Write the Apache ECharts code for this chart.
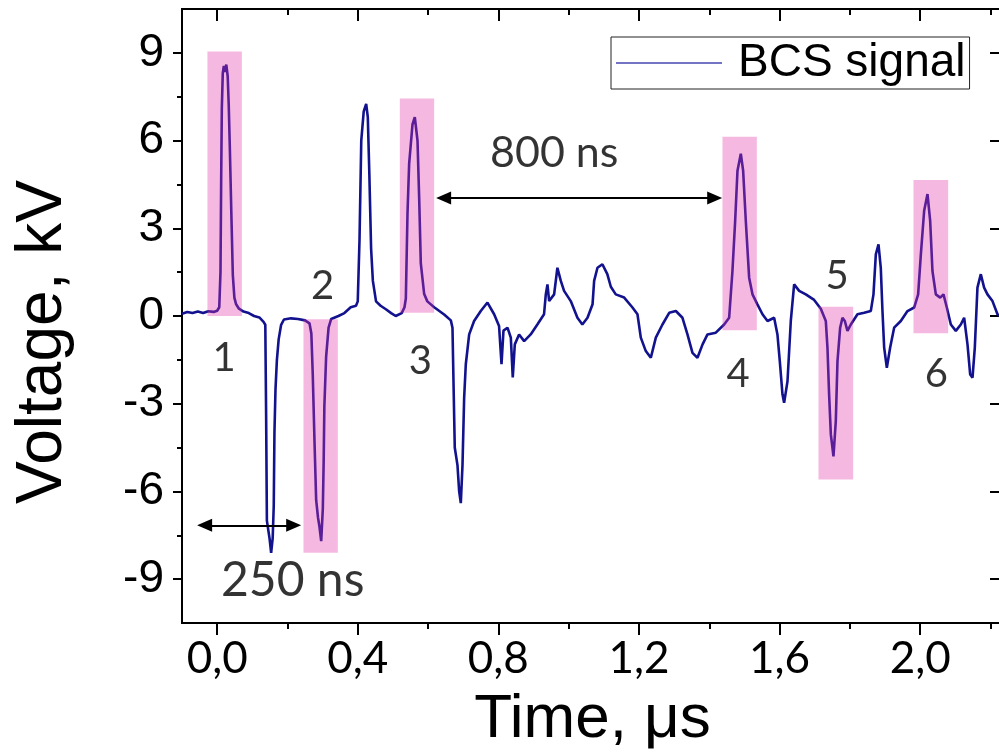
<!DOCTYPE html>
<html>
<head>
<meta charset="utf-8">
<script src="https://cdn.jsdelivr.net/npm/echarts@6.0.0/dist/echarts.min.js"></script>
<style>
  html, body { margin: 0; padding: 0; background: #fff; }
  #chart { width: 999px; height: 754px; }
</style>
</head>
<body>
<div id="chart"></div>
<script>
// ---- Data ----
const seriesName = 'BCS signal';

const times = [
  -0.10, -0.085, -0.07, -0.055, -0.04, -0.025, -0.01, 0.000, 0.006,
  0.0095, 0.0114, 0.0133, 0.016, 0.019, 0.0225, 0.026, 0.030, 0.033, 0.036, 0.040, 0.0446, 0.049, 0.054,
  0.062, 0.075, 0.09, 0.105, 0.12, 0.132,
  0.137, 0.1394, 0.1415, 0.149, 0.1536, 0.158, 0.161, 0.163, 0.166, 0.170, 0.175, 0.182, 0.19, 0.21, 0.23, 0.25, 0.2627,
  0.268, 0.272, 0.277, 0.2817, 0.287, 0.291, 0.296, 0.3006, 0.303, 0.305, 0.310, 0.317, 0.3245, 0.345, 0.362, 0.380, 0.395,
  0.400, 0.405, 0.410, 0.417, 0.424, 0.4286, 0.433, 0.438, 0.443, 0.452, 0.465, 0.480, 0.495, 0.508, 0.525, 0.533,
  0.5368, 0.5415, 0.5462, 0.5557, 0.5623, 0.570, 0.5747, 0.5794, 0.589, 0.598, 0.6174, 0.6458, 0.6648, 0.6695,
  0.6723, 0.676, 0.6837, 0.6885, 0.6932, 0.698, 0.7027, 0.7074, 0.717, 0.731, 0.750, 0.769, 0.788, 0.802,
  0.809, 0.8146, 0.826, 0.8355, 0.841, 0.8468, 0.859, 0.8734, 0.892, 0.911, 0.930, 0.935, 0.9397, 0.9445,
  0.9587, 0.968, 0.9777, 0.987, 1.006, 1.025, 1.039, 1.0536, 1.068, 1.0725, 1.082, 1.096, 1.110, 1.120, 1.134,
  1.158, 1.1816, 1.1958, 1.2053, 1.2195, 1.2338, 1.248, 1.2669, 1.286, 1.305, 1.3238, 1.338, 1.3523, 1.3665,
  1.381, 1.395, 1.4187, 1.4424, 1.4566, 1.466, 1.4737, 1.4803, 1.4898, 1.4964, 1.504, 1.5135, 1.523, 1.537,
  1.5514, 1.5657, 1.5846, 1.594, 1.6007, 1.6083, 1.613, 1.6226, 1.632, 1.6415, 1.6558, 1.6747, 1.6984, 1.7174,
  1.7316, 1.7363, 1.741, 1.7459, 1.7534, 1.760, 1.7648, 1.7724, 1.779, 1.7857, 1.7932, 1.8028, 1.8217, 1.8407,
  1.8596, 1.8672, 1.8739, 1.8815, 1.888, 1.8928, 1.8976, 1.9052, 1.9147, 1.926, 1.945, 1.964, 1.983, 1.9943,
  2.002, 2.0114, 2.0209, 2.0285, 2.035, 2.0446, 2.057, 2.0664, 2.0759, 2.0873, 2.1015, 2.1157, 2.1252, 2.1347,
  2.1423, 2.149, 2.1555, 2.163, 2.1726, 2.182, 2.1915, 2.2058, 2.22, 2.235
];

const volts = [
  0.08, 0.14, 0.10, 0.15, 0.10, 0.16, 0.14, 0.18, 0.30,
  1.5, 4.6, 7.1, 8.3, 8.55, 8.35, 8.6, 8.2, 7.2, 5.8, 3.7, 1.4, 0.63, 0.40,
  0.25, 0.15, 0.10, 0.0, -0.05, -0.2,
  -0.3, -3.5, -7.0, -7.6, -8.1, -7.6, -6.5, -4.0, -2.5, -1.5, -0.8, -0.3, -0.12, -0.08, -0.1, -0.15, -0.25,
  -0.6, -2.0, -4.3, -6.3, -6.9, -7.2, -7.7, -6.6, -5.0, -3.1, -1.4, -0.4, -0.1, 0.0, 0.1, 0.3, 0.35,
  0.5, 2.6, 6.0, 7.0, 7.25, 6.8, 4.85, 2.3, 1.2, 0.5, 0.35, 0.23, 0.1, 0.0, 0.1, 0.3,
  0.6, 3.5, 5.2, 6.55, 6.8, 6.0, 4.05, 1.8, 0.75, 0.5, 0.3, 0.05, -0.15, -0.4,
  -2.2, -4.5, -5.1, -6.0, -6.4, -5.1, -2.8, -1.65, -0.63, -0.17, 0.17, 0.46, 0.06, -0.34,
  -1.65, -0.5, -0.4, -0.74, -2.1, -0.97, -0.63, -0.86, -0.63, -0.29, 0.06, 0.74, 1.08, 0.51,
  0.74, 1.65, 1.2, 0.86, 0.51, -0.06, -0.29, -0.06, 0.4, 1.2, 1.65, 1.77, 1.43, 1.0, 0.74,
  0.63, 0.29, 0.06, -0.74, -1.2, -1.43, -0.74, -0.29, 0.11, 0.17, -0.06, -0.63, -1.26, -1.43,
  -0.97, -0.63, -0.57, -0.29, -0.06, 1.54, 3.25, 4.97, 5.55, 4.97, 3.25, 1.31, 0.74, 0.40,
  0.06, -0.17, -0.06, -0.63, -1.54, -2.68, -2.97, -2.23, -0.17, 1.08, 0.86, 0.74, 0.55, 0.25,
  -0.17, -1.08, -2.68, -4.05, -4.8, -3.6, -1.54, -0.4, -0.06, -0.17, -0.51, -0.29, 0.06, 0.11,
  0.17, 0.74, 2.11, 2.45, 1.65, 0.17, -1.08, -1.77, -1.08, -0.4, -0.17, 0.17, 0.29, 0.74,
  2.11, 3.6, 4.17, 3.25, 1.54, 0.74, 0.63, 0.74, 0.29, -0.29, -0.51, -0.29, -0.06, -0.97,
  -2.0, -2.11, -1.08, 0.97, 1.43, 0.97, 0.74, 0.51, 0.06, -0.05
];

// Highlighted pulses (pink boxes): time start/end, voltage low/high
const boxStart = [-0.0276, 0.2456, 0.5197, 1.4376, 1.7108, 1.9810];
const boxEnd   = [ 0.0703, 0.3433, 0.6174, 1.5354, 1.8094, 2.0797];
const boxLow   = [ 0.00,  -8.10,   0.11,  -0.49,  -5.59,  -0.59];
const boxHigh  = [ 9.05,  -0.11,   7.44,   6.13,   0.32,   4.65];

// Pulse numbers (label text, time, voltage)
const pulseLabels = ['1', '2', '3', '4', '5', '6'];
const pulseLabelT = [0.020, 0.300, 0.578, 1.482, 1.764, 2.046];
const pulseLabelV = [-1.44, 1.03, -1.54, -1.99, 1.37, -1.99];

// Interval annotations (double arrows)
const spanLabels = ['250 ns', '800 ns'];
const spanStart  = [-0.0357, 0.6443];
const spanEnd    = [0.2177, 1.4154];
const spanV      = [-7.16, 4.04];
const spanLabelT = [0.215, 0.959];
const spanLabelV = [-9.06, 5.58];

// Axis ticks / labels
const xTickLabels = [0, 0.4, 0.8, 1.2, 1.6, 2.0];
const yTickLabels = [-9, -6, -3, 0, 3, 6, 9];
const X_MIN = -0.1, X_MAX = 2.2357;
const Y_MIN = -10.5, Y_MAX = 10.5;
const X_TICK_MIN = 0, X_TICK_MAX = 2.4, X_TICK_STEP = 0.4;
const Y_TICK_MIN = -9, Y_TICK_MAX = 9, Y_TICK_STEP = 3;

// ---- Layout ----
const G = { left: 182, top: 9, width: 821, height: 614 };
const pxX = G.width / (X_MAX - X_MIN);
const pxY = G.height / (Y_MAX - Y_MIN);

// ---- Build chart ----
const lineData = times.map((t, i) => [t, volts[i]]);
const boxData = boxStart.map((s, i) => [s, boxEnd[i], boxLow[i], boxHigh[i]]);
const labelData = pulseLabels.map((txt, i) => ({ value: [pulseLabelT[i], pulseLabelV[i]], name: txt }))
  .concat(spanLabels.map((txt, i) => ({
    value: [spanLabelT[i], spanLabelV[i]], name: txt,
    label: { fontSize: i === 0 ? 48 : 43 }
  })));
const arrowData = spanStart.map((s, i) => [
  { coord: [s, spanV[i]] }, { coord: [spanEnd[i], spanV[i]] }
]);

const AX = '#000';
function noLine() { return { show: false, onZero: false }; }
function tickStyle() { return { color: AX, width: 2 }; }

const option = {
  backgroundColor: '#fff',
  animation: false,
  grid: [
    { // main plotting area with frame
      left: G.left, top: G.top, width: G.width, height: G.height, containLabel: false,
      outerBoundsMode: 'none',
      show: true, borderColor: AX, borderWidth: 2, backgroundColor: 'transparent'
    },
    { // x tick grid: starts at t = 0 so that ticks fall on multiples of the step
      left: G.left + (X_TICK_MIN - X_MIN) * pxX, width: (X_TICK_MAX - X_TICK_MIN) * pxX,
      top: G.top, height: G.height, containLabel: false, outerBoundsMode: 'none', show: false
    },
    { // y tick grid: spans -9 .. 9 kV
      left: G.left, width: G.width,
      top: G.top + (Y_MAX - Y_TICK_MAX) * pxY, height: (Y_TICK_MAX - Y_TICK_MIN) * pxY,
      containLabel: false, outerBoundsMode: 'none', show: false
    }
  ],
  legend: {
    data: [seriesName],
    left: 611, top: 37,
    orient: 'horizontal',
    padding: [3, 4, 3, 5],
    borderColor: '#222', borderWidth: 1,
    backgroundColor: '#fff',
    icon: 'rect',
    itemWidth: 106, itemHeight: 1.5,
    itemStyle: { color: '#4646b0' },
    textStyle: { fontFamily: 'Liberation Sans', fontSize: 46, color: '#000', padding: [0, 0, 0, 11] }
  },
  xAxis: [
    { // main x axis: labels + title
      gridIndex: 0, type: 'value', min: X_MIN, max: X_MAX, position: 'bottom',
      axisLine: noLine(), axisTick: { show: false }, splitLine: { show: false },
      axisLabel: {
        show: true, customValues: xTickLabels, margin: 14,
        formatter: v => v.toFixed(1).replace('.', ','),
        fontFamily: 'Lato', fontSize: 44, color: '#000'
      },
      name: 'Time, μs', nameLocation: 'middle', nameGap: 66,
      nameTextStyle: { fontFamily: 'Liberation Sans', fontSize: 62, color: '#000' }
    },
    { // bottom ticks (outward) with minor ticks
      gridIndex: 1, type: 'value', min: X_TICK_MIN, max: X_TICK_MAX, interval: X_TICK_STEP, position: 'bottom',
      axisLine: noLine(), splitLine: { show: false }, axisLabel: { show: false },
      axisTick: { show: true, inside: false, length: 12, lineStyle: tickStyle() },
      minorTick: { show: true, splitNumber: 2, length: 6, lineStyle: tickStyle() }
    },
    { // top ticks (inward) with minor ticks
      gridIndex: 1, type: 'value', min: X_TICK_MIN, max: X_TICK_MAX, interval: X_TICK_STEP, position: 'top',
      axisLine: noLine(), splitLine: { show: false }, axisLabel: { show: false },
      axisTick: { show: true, inside: true, length: 12, lineStyle: tickStyle() },
      minorTick: { show: true, splitNumber: 2, length: 6, lineStyle: tickStyle() }
    },
    { gridIndex: 2, type: 'value', min: X_MIN, max: X_MAX, show: false }
  ],
  yAxis: [
    { // main y axis: labels + title
      gridIndex: 0, type: 'value', min: Y_MIN, max: Y_MAX, position: 'left',
      axisLine: noLine(), axisTick: { show: false }, splitLine: { show: false },
      axisLabel: {
        show: true, customValues: yTickLabels, margin: 18,
        fontFamily: 'Liberation Sans', fontSize: 46, color: '#000'
      },
      name: 'Voltage, kV', nameLocation: 'middle', nameGap: 107,
      nameTextStyle: { fontFamily: 'Liberation Sans', fontSize: 64, color: '#000', padding: [0, 52, 0, 0] }
    },
    { gridIndex: 1, type: 'value', min: Y_MIN, max: Y_MAX, show: false },
    { // left ticks (outward) with minor ticks
      gridIndex: 2, type: 'value', min: Y_TICK_MIN, max: Y_TICK_MAX, interval: Y_TICK_STEP, position: 'left',
      axisLine: noLine(), splitLine: { show: false }, axisLabel: { show: false },
      axisTick: { show: true, inside: false, length: 9, lineStyle: tickStyle() },
      minorTick: { show: true, splitNumber: 2, length: 5, lineStyle: tickStyle() }
    },
    { // right ticks (inward)
      gridIndex: 2, type: 'value', min: Y_TICK_MIN, max: Y_TICK_MAX, interval: Y_TICK_STEP, position: 'right',
      axisLine: noLine(), splitLine: { show: false }, axisLabel: { show: false },
      axisTick: { show: true, inside: true, length: 13, lineStyle: tickStyle() }
    }
  ],
  series: [
    {
      name: seriesName,
      type: 'line',
      xAxisIndex: 0, yAxisIndex: 0,
      data: lineData,
      symbol: 'none',
      showSymbol: false,
      sampling: 'none',
      z: 2,
      color: '#12128f',
      lineStyle: { color: '#12128f', width: 2.6 },
      markLine: {
        silent: true,
        symbol: ['triangle', 'triangle'],
        symbolSize: [13, 15],
        label: { show: false },
        lineStyle: { color: '#000', width: 2, type: 'solid' },
        emphasis: { disabled: true },
        data: arrowData
      }
    },
    {
      name: 'highlight',
      type: 'custom',
      xAxisIndex: 0, yAxisIndex: 0,
      z: 3,
      silent: true,
      data: boxData,
      encode: { x: [0, 1], y: [2, 3] },
      renderItem: function (params, api) {
        const p0 = api.coord([api.value(0), api.value(3)]);
        const p1 = api.coord([api.value(1), api.value(2)]);
        return {
          type: 'rect',
          shape: { x: p0[0], y: p0[1], width: p1[0] - p0[0], height: p1[1] - p0[1] },
          style: { fill: 'rgba(226,55,169,0.35)' }
        };
      }
    },
    {
      name: 'labels',
      type: 'scatter',
      xAxisIndex: 0, yAxisIndex: 0,
      z: 4,
      silent: true,
      symbolSize: 0,
      data: labelData,
      label: {
        show: true, position: 'inside',
        formatter: p => p.name,
        fontFamily: 'Lato', fontSize: 40, color: '#000'
      }
    }
  ]
};

const chart = echarts.init(document.getElementById('chart'), null, { renderer: 'canvas' });
chart.setOption(option);
</script>
</body>
</html>
